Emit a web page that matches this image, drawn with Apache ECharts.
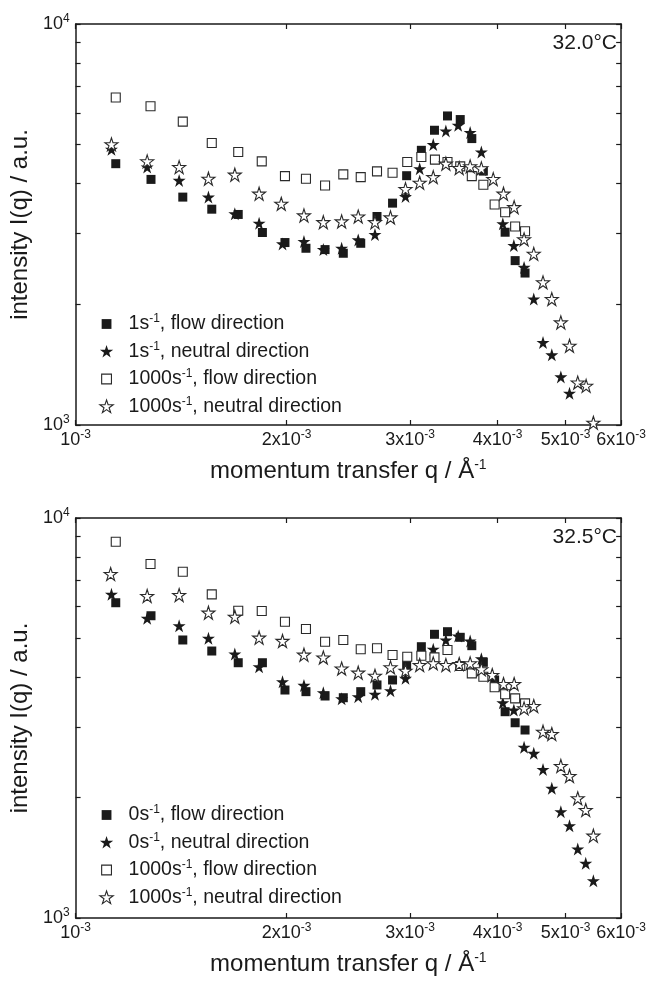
<!DOCTYPE html>
<html><head><meta charset="utf-8">
<script src="https://cdn.jsdelivr.net/npm/echarts@6/dist/echarts.min.js"></script>
<style>html,body{margin:0;padding:0;background:#fff}#c{width:649px;height:983px}</style>
</head><body><div id="c"></div>
<script>
// ---------- data (q in units of 1e-3 1/Å, intensity in a.u.) ----------
const xTickValues = [0.001, 0.002, 0.003, 0.004, 0.005, 0.006];
const yTickValues = [1000, 2000, 3000, 4000, 5000, 6000, 7000, 8000, 9000, 10000];
const yLabelValues = [1000, 10000];
const panelTitles = ['32.0°C', '32.5°C'];

// panel 1 (32.0 °C)
const p1Names = ['1s-1, flow direction', '1s-1, neutral direction', '1000s-1, flow direction', '1000s-1, neutral direction'];
const p1_flow1_q = [1.141,1.281,1.422,1.564,1.706,1.847,1.989,2.131,2.269,2.409,2.551,2.691,2.832,2.966,3.113,3.250,3.392,3.537,3.674,3.816,4.099,4.236,4.376];
const p1_flow1_I = [4484,4097,3701,3453,3350,3020,2851,2759,2738,2681,2839,3311,3575,4185,4842,5433,5898,5777,5179,4297,3025,2570,2393];
const p1_neut1_q = [1.125,1.265,1.405,1.547,1.687,1.827,1.973,2.117,2.256,2.396,2.530,2.673,2.813,2.955,3.096,3.237,3.374,3.513,3.654,3.791,4.068,4.218,4.362,4.503,4.642,4.778,4.922,5.064];
const p1_neut1_I = [4870,4397,4074,3701,3363,3186,2829,2868,2738,2759,2895,2985,3286,3715,4357,5003,5412,5592,5362,4795,3175,2803,2472,2061,1606,1496,1318,1200];
const p1_flow1000_q = [1.141,1.279,1.422,1.564,1.706,1.843,1.989,2.131,2.269,2.409,2.551,2.691,2.832,2.972,3.113,3.255,3.392,3.537,3.674,3.816,3.960,4.099,4.236,4.376];
const p1_flow1000_I = [6557,6237,5710,5050,4795,4544,4175,4113,3957,4217,4151,4290,4258,4526,4658,4589,4526,4416,4175,3973,3548,3394,3126,3042];
const p1_neut1000_q = [1.125,1.265,1.405,1.547,1.687,1.827,1.965,2.117,2.256,2.396,2.530,2.673,2.813,2.955,3.096,3.237,3.374,3.525,3.654,3.791,3.942,4.077,4.222,4.362,4.503,4.642,4.778,4.922,5.064,5.203,5.348,5.477];
const p1_neut1000_I = [5012,4544,4397,4113,4209,3774,3562,3331,3204,3218,3311,3204,3293,3875,4019,4151,4484,4372,4416,4365,4104,3774,3493,2905,2672,2269,2061,1802,1576,1276,1252,1013];

// panel 2 (32.5 °C)
const p2Names = ['0s-1, flow direction', '0s-1, neutral direction', '1000s-1, flow direction ', '1000s-1, neutral direction '];
const p2_flow0_q = [1.141,1.281,1.422,1.564,1.706,1.847,1.989,2.131,2.269,2.409,2.551,2.691,2.832,2.966,3.113,3.250,3.392,3.537,3.674,3.816,3.960,4.099,4.236,4.376];
const p2_flow0_I = [6140,5697,4955,4650,4347,4347,3715,3680,3589,3554,3680,3825,3936,4290,4767,5120,5197,5032,4795,4357,3936,3279,3077,2951];
const p2_neut0_q = [1.125,1.265,1.405,1.547,1.687,1.827,1.973,2.117,2.256,2.396,2.530,2.673,2.813,2.955,3.237,3.374,3.513,3.654,3.791,4.068,4.218,4.362,4.503,4.642,4.778,4.922,5.064,5.203,5.341,5.477];
const p2_neut0_I = [6444,5613,5378,5003,4571,4248,3897,3815,3658,3532,3575,3624,3701,3973,4696,4955,5070,4927,4448,3453,3311,2672,2580,2352,2110,1844,1701,1488,1370,1239];
const p2_flow1000_q = [1.141,1.279,1.422,1.564,1.706,1.843,1.989,2.131,2.269,2.409,2.551,2.691,2.832,2.972,3.113,3.250,3.392,3.537,3.674,3.816,3.960,4.099,4.236,4.376];
const p2_flow1000_I = [8724,7674,7340,6444,5864,5854,5505,5279,4906,4955,4696,4723,4544,4499,4526,4484,4677,4266,4089,4010,3774,3624,3541,3441];
const p2_neut1000_q = [1.122,1.265,1.405,1.547,1.687,1.827,1.973,2.117,2.256,2.396,2.530,2.673,2.813,2.955,3.096,3.237,3.374,3.525,3.654,3.791,3.929,4.077,4.222,4.362,4.503,4.642,4.778,4.922,5.064,5.203,5.341,5.477];
const p2_neut1000_I = [7244,6383,6419,5797,5665,5021,4927,4553,4479,4204,4104,4033,4233,4151,4290,4332,4290,4315,4332,4185,4050,3846,3846,3343,3388,2922,2884,2399,2265,1992,1862,1606];

// ---------- chart ----------
const FONT = '"Liberation Sans", Arial, Helvetica, sans-serif';
const INK = '#1a1a1a';
const STAR = 'path://M50,0 L61.2,34.5 L97.6,34.5 L68.2,55.9 L79.4,90.5 L50,69.1 L20.6,90.5 L31.8,55.9 L2.4,34.5 L38.8,34.5 Z';
// square icon padded inside a 100x100 box (legend icons fill their box)
const LEG_SQ = 'path://M0,0 M100,100 M15,15 L85,15 L85,85 L15,85 Z';
const LEG_STAR = 'path://M0,-2 M100,96 M50,0 L61.2,34.5 L97.6,34.5 L68.2,55.9 L79.4,90.5 L50,69.1 L20.6,90.5 L31.8,55.9 L2.4,34.5 L38.8,34.5 Z';

const FILLED = { color: INK, opacity: 1 };
const OPEN = { color: '#fff', borderColor: '#2a2a2a', borderWidth: 1.1, opacity: 1 };
const STYLES = [
  { symbol: 'rect', symbolSize: 9, itemStyle: FILLED, legendIcon: LEG_SQ },
  { symbol: STAR, symbolSize: 13, itemStyle: FILLED, legendIcon: LEG_STAR },
  { symbol: 'rect', symbolSize: 9, itemStyle: OPEN, legendIcon: LEG_SQ },
  { symbol: STAR, symbolSize: 13, itemStyle: OPEN, legendIcon: LEG_STAR }
];

function pts(q, I) { return q.map((v, i) => [v * 1e-3, I[i]]); }
function xLabelFmt(v) {
  const k = Math.round(v * 1000);
  return k === 1 ? '10{sup|-3}' : k + 'x10{sup|-3}';
}
function yLabelFmt(v) { return '10{sup|' + Math.round(Math.log10(v)) + '}'; }

const supRich = (fs, up) => ({ sup: { fontSize: fs, fontFamily: FONT, color: INK, padding: [0, 0, up, 0] } });

const grids = [
  { left: 74, top: 24, width: 549, height: 401 },
  { left: 74, top: 518, width: 549, height: 400 }
];

const xAxes = [], yAxes = [];
grids.forEach((g, gi) => {
  ['bottom', 'top'].forEach((pos) => {
    const main = pos === 'bottom';
    xAxes.push({
      type: 'log', logBase: 10, gridIndex: gi, position: pos,
      min: 0.001, max: 0.006,
      name: main ? 'momentum transfer q / Å{sup|-1}' : '',
      nameLocation: 'middle', nameGap: 33,
      nameTextStyle: { fontSize: 24, fontFamily: FONT, color: INK, rich: supRich(14, 12) },
      axisLine: { show: true, onZero: false, lineStyle: { color: INK, width: 1.5 } },
      axisTick: { show: true, inside: true, length: 5, customValues: xTickValues, lineStyle: { color: INK, width: 1.2 } },
      axisLabel: {
        show: main, customValues: xTickValues, formatter: xLabelFmt, margin: 4, hideOverlap: false,
        showMinLabel: true, showMaxLabel: true,
        fontSize: 18, fontFamily: FONT, color: INK, rich: supRich(12, 10)
      },
      splitLine: { show: false }, minorTick: { show: false }
    });
  });
  ['left', 'right'].forEach((pos) => {
    const main = pos === 'left';
    yAxes.push({
      type: 'log', logBase: 10, gridIndex: gi, position: pos,
      min: 1000, max: 10000,
      name: main ? 'intensity I(q) / a.u.' : '',
      nameLocation: 'middle', nameGap: 37,
      nameTextStyle: { fontSize: 24, fontFamily: FONT, color: INK },
      axisLine: { show: true, onZero: false, lineStyle: { color: INK, width: 1.5 } },
      axisTick: { show: true, inside: true, length: 5, customValues: yTickValues, lineStyle: { color: INK, width: 1.2 } },
      axisLabel: {
        show: main, customValues: yLabelValues, formatter: yLabelFmt, margin: 6,
        showMinLabel: true, showMaxLabel: true,
        fontSize: 18, fontFamily: FONT, color: INK, rich: supRich(12, 10)
      },
      splitLine: { show: false }, minorTick: { show: false }
    });
  });
});

const panelData = [
  [[p1_flow1_q, p1_flow1_I], [p1_neut1_q, p1_neut1_I], [p1_flow1000_q, p1_flow1000_I], [p1_neut1000_q, p1_neut1000_I]],
  [[p2_flow0_q, p2_flow0_I], [p2_neut0_q, p2_neut0_I], [p2_flow1000_q, p2_flow1000_I], [p2_neut1000_q, p2_neut1000_I]]
];
const panelNames = [p1Names, p2Names];

const series = [];
panelData.forEach((sets, gi) => {
  sets.forEach(([q, I], si) => {
    const st = STYLES[si];
    series.push({
      type: 'scatter', name: panelNames[gi][si],
      xAxisIndex: gi * 2, yAxisIndex: gi * 2,
      symbol: st.symbol, symbolSize: st.symbolSize, itemStyle: st.itemStyle,
      data: pts(q, I), z: 2 + si, silent: true, animation: false
    });
  });
});

const legendFmt = (name) => name.trim().replace('s-1', 's{sup|-1}');
const legendTops = [308, 799];
const legends = grids.map((g, gi) => ({
  data: panelNames[gi].map((n, si) => ({ name: n, icon: STYLES[si].legendIcon, itemStyle: STYLES[si].itemStyle })),
  orient: 'vertical', left: 94, top: legendTops[gi],
  itemWidth: 14, itemHeight: 14, itemGap: 5.5, selectedMode: false,
  formatter: legendFmt,
  textStyle: { fontSize: 19.5, fontFamily: FONT, color: INK, lineHeight: 22, padding: [0, 0, 0, 10], rich: supRich(12, 10) }
}));

const graphic = grids.map((g, gi) => ({
  type: 'text', right: 649 - 617, top: g.top + 9,
  style: { text: panelTitles[gi], fontSize: 21, fontFamily: FONT, fill: INK }
}));

const chart = echarts.init(document.getElementById('c'), null, { renderer: 'canvas' });
chart.setOption({
  animation: false,
  backgroundColor: '#fff',
  grid: grids,
  xAxis: xAxes,
  yAxis: yAxes,
  legend: legends,
  graphic: graphic,
  series: series
});
</script>
</body></html>
